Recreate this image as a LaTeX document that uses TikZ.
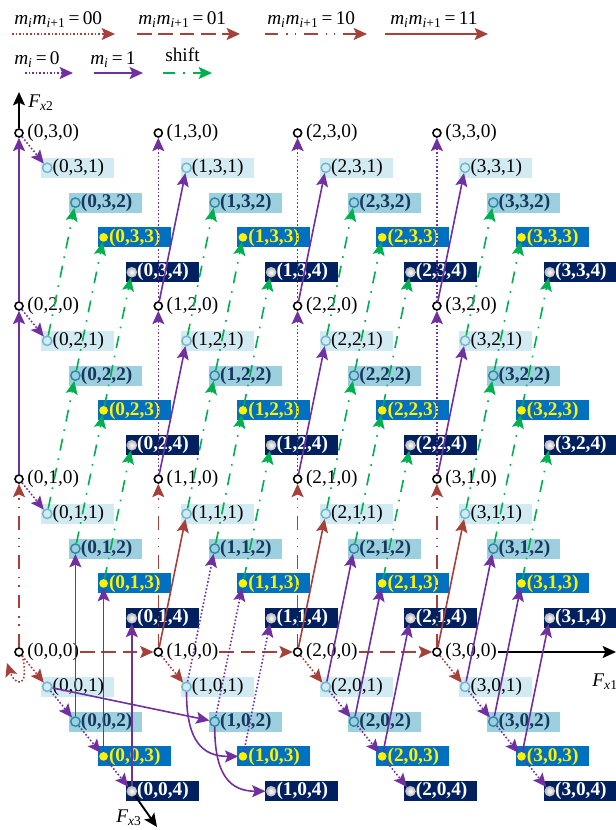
\documentclass[tikz,border=0pt]{standalone}
\usepackage{fontspec}
\setmainfont{Liberation Serif}
\usetikzlibrary{arrows.meta}
\definecolor{cred}{HTML}{A5403A}
\definecolor{cpur}{HTML}{7030A0}
\definecolor{cgrn}{HTML}{00B050}
\definecolor{bz1}{HTML}{D2EAF1}
\definecolor{bz2}{HTML}{9CD0DE}
\definecolor{bz3}{HTML}{0070C0}
\definecolor{bz4}{HTML}{002060}
\definecolor{cz1}{HTML}{6FB8D0}
\definecolor{cz2}{HTML}{2E8AA6}
\definecolor{tz2}{HTML}{17375E}
\newcommand{\mmlab}[1]{\textit{m}\textsubscript{\textit{i}}\textit{m}\textsubscript{\textit{i}+1}\,=\,#1}
\newcommand{\milab}[1]{\textit{m}\textsubscript{\textit{i}}\,=\,#1}
\newcommand{\lfont}{\fontsize{14.5}{16}\selectfont}
\tikzset{
  arr/.style={-{Stealth[length=10pt,width=9pt,inset=2pt]}},
  e00/.style={arr, cred, line width=1.2pt, dash pattern=on 1.2pt off 1.5pt},
  e01/.style={arr, cred, line width=1.4pt, dash pattern=on 11pt off 5pt},
  e10/.style={arr, cred, line width=1.2pt, dash pattern=on 10pt off 6pt on 1.2pt off 5pt on 1.2pt off 6pt},
  e11/.style={arr, cred, line width=1.2pt},
  p0/.style={arr, cpur, line width=1.2pt, dash pattern=on 1.2pt off 1.5pt},
  p1/.style={arr, cpur, line width=1.2pt},
  sh/.style={arr, cgrn, line width=1.2pt, dash pattern=on 9pt off 6pt on 1.2pt off 6pt},
  ax/.style={arr, black, line width=1.4pt},
  dot0/.style={circle, draw=black, fill=white, line width=1.2pt, minimum size=6pt, inner sep=0pt},
  dot1/.style={circle, draw=cz1, fill=bz1, line width=1.1pt, minimum size=7pt, inner sep=0pt},
  dot2/.style={circle, draw=cz2, fill=bz2, line width=1.1pt, minimum size=7pt, inner sep=0pt},
  dot3/.style={circle, fill=yellow, minimum size=6.5pt, inner sep=0pt},
  dot4/.style={circle, inner color=white, outer color=black!30!white, minimum size=8pt, inner sep=0pt},
  lab0/.style={text=black, font=\lfont, inner sep=0.5pt},
  lab1/.style={text=black, font=\lfont, inner sep=0.5pt},
  lab2/.style={text=tz2, font=\lfont\bfseries, inner sep=0.5pt},
  lab3/.style={text=yellow, font=\lfont\bfseries, inner sep=0.5pt},
  lab4/.style={text=white, font=\lfont\bfseries, inner sep=0.5pt},
}
\begin{document}
\begin{tikzpicture}[x=0.75pt, y=-0.75pt, font=\lfont]
\useasboundingbox (0,0) rectangle (616,830);
% ---------- legend ----------
\node[anchor=base west, inner sep=0] (lg1) at (14,25) {\mmlab{00}};
\node[anchor=base west, inner sep=0] (lg2) at (138,25) {\mmlab{01}};
\node[anchor=base west, inner sep=0] (lg3) at (267,25) {\mmlab{10}};
\node[anchor=base west, inner sep=0] (lg4) at (390,25) {\mmlab{11}};
\coordinate (a1) at (12,34);  \coordinate (b1) at (115,34);
\coordinate (a2) at (137,34); \coordinate (b2) at (240,34);
\coordinate (a3) at (265,34); \coordinate (b3) at (367,34);
\coordinate (a4) at (385,34); \coordinate (b4) at (488,34);
\draw[e00] (a1) -- (b1);
\draw[e01] (a2) -- (b2);
\draw[e10] (a3) -- (b3);
\draw[e11] (a4) -- (b4);
\node[anchor=base west, inner sep=0] (lg5) at (14,65) {\milab{0}};
\node[anchor=base west, inner sep=0] (lg6) at (90,65) {\milab{1}};
\node[anchor=base west, inner sep=0] (lg7) at (165,62) {shift};
\coordinate (a5) at (25,73);  \coordinate (b5) at (73,73);
\coordinate (a6) at (94,73);  \coordinate (b6) at (143,73);
\coordinate (a7) at (163,73); \coordinate (b7) at (212,73);
\draw[p0] (a5) -- (b5);
\draw[p1, line width=1.7pt] (a6) -- (b6);
\draw[sh] (a7) -- (b7);
% ---------- nodes ----------
\foreach \x in {0,...,3}{
 \foreach \y in {0,...,3}{
  \foreach \z in {0,...,4}{
   \pgfmathsetmacro\cx{19+139.3*\x+28.2*\z}
   \pgfmathsetmacro\cy{652-173*\y+34.8*\z}
   \pgfmathsetmacro\off{\z==0 ? 7.5 : 4.5}
   \ifnum\z>0 \fill[bz\z] (\cx-6,\cy-10) rectangle (\cx+67,\cy+10); \fi
   \node[dot\z] (n-\x-\y-\z) at (\cx,\cy) {};
   \node[lab\z, anchor=west] (l-\x-\y-\z) at (\cx+\off,\cy) {(\x,\y,\z)};
  }}}
% ---------- axes ----------
\coordinate (t2) at (19,92);
\coordinate (t1) at (616,652);
\coordinate (t3) at (157,827);
\draw[ax] (n-0-3-0) -- (t2);
\draw[ax] (l-3-0-0.east) -- (t1);
\draw[ax] (n-0-0-4) -- (t3);
\node[anchor=west, inner sep=0] (fx2) at (28,103) {\textit{F}\textsubscript{\textit{x}2}};
\node[anchor=west, inner sep=0] (fx1) at (592,682) {\textit{F}\textsubscript{\textit{x}1}};
\node[anchor=west, inner sep=0] (fx3) at (116,818) {\textit{F}\textsubscript{\textit{x}3}};
% ---------- row 0 ----------
\foreach \x [count=\xn] in {0,1,2} \draw[e01] (l-\x-0-0.east) -- (n-\xn-0-0);
\foreach \x in {0,...,3} \draw[e00] (n-\x-0-0) -- (n-\x-0-1);
\coordinate (lp) at (7,663);
\draw[e00] (n-0-0-0.south east) .. controls (30,692) and (14,684) .. (lp);
\foreach \x in {0,2,3} \foreach \z [count=\zn from 2] in {1,2,3} \draw[p0] (n-\x-0-\z) -- (n-\x-0-\zn);
% ---------- row 0 -> 1 ----------
\foreach \x in {0,...,3} \draw[e10] (n-\x-0-0) -- (n-\x-1-0);
\foreach \x in {1,2,3} \draw[e11] (n-\x-0-0) -- (n-\x-1-1);
\foreach \z in {2,3,4} \draw[p1] (n-0-0-\z) -- (n-0-1-\z);
\foreach \z [count=\zn from 2] in {1,2,3} \draw[p0] (n-1-0-\z) -- (n-1-1-\zn);
\foreach \x in {2,3} \foreach \z [count=\zn from 2] in {1,2,3} \draw[p1] (n-\x-0-\z) -- (n-\x-1-\zn);
\draw[p1] (n-0-0-1) -- (n-1-0-2);
\draw[p1] (n-1-0-1) .. controls +(0,55) and +(-40,0) .. (n-1-0-3);
\draw[p1] (n-1-0-2) .. controls +(0,55) and +(-40,0) .. (n-1-0-4);
% ---------- rows 1 -> 2 -> 3 ----------
\foreach \y in {1,2,3} \draw[p0] (n-0-\y-0) -- (n-0-\y-1);
\foreach \y [count=\yn from 2] in {1,2} {
  \draw[p1] (n-0-\y-0) -- (n-0-\yn-0);
  \foreach \x in {1,2,3} {
    \draw[p0] (n-\x-\y-0) -- (n-\x-\yn-0);
    \draw[p1] (n-\x-\y-0) -- (n-\x-\yn-1);
  }
  \foreach \x in {0,...,3} \foreach \z [count=\zn from 2] in {1,2,3} \draw[sh] (n-\x-\y-\z) -- (n-\x-\yn-\zn);
}
\end{tikzpicture}
\end{document}
